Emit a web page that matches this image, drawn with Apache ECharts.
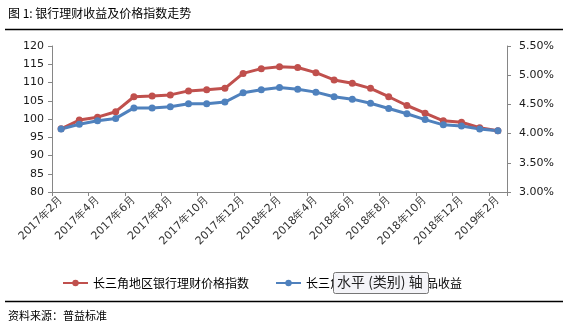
<!DOCTYPE html>
<html><head><meta charset="utf-8">
<script src="https://cdn.jsdelivr.net/npm/echarts@6/dist/echarts.min.js"></script>
<style>html,body{margin:0;padding:0;background:#fff}#c{width:572px;height:328px}</style>
</head><body><div id="c"></div>
<script>
const categories = ['2017年2月','2017年3月','2017年4月','2017年5月','2017年6月','2017年7月','2017年8月','2017年9月','2017年10月','2017年11月','2017年12月','2018年1月','2018年2月','2018年3月','2018年4月','2018年5月','2018年6月','2018年7月','2018年8月','2018年9月','2018年10月','2018年11月','2018年12月','2019年1月','2019年2月'];
const priceIndex = [97.3,99.7,100.5,102.0,106.1,106.3,106.6,107.7,108.0,108.4,112.5,113.8,114.3,114.1,112.7,110.7,109.8,108.4,106.1,103.7,101.6,99.5,99.1,97.6,96.8];
const yieldPct = [4.08,4.16,4.22,4.26,4.44,4.44,4.46,4.51,4.51,4.54,4.70,4.75,4.79,4.76,4.71,4.63,4.59,4.52,4.43,4.34,4.24,4.15,4.13,4.08,4.05];
const seriesNames = ['长三角地区银行理财价格指数','长三角地区银行理财产品收益'];
const titleText = '图 1: 银行理财收益及价格指数走势';
const sourceText = '资料来源：普益标准';

const chart = echarts.init(document.getElementById('c'), null, {renderer:'canvas'});
const axisFont = {fontFamily:'DejaVu Sans', fontSize:11, color:'#1a1a1a'};
chart.setOption({
  animation:false,
  backgroundColor:'#fff',
  grid:{left:52, right:65, top:46, bottom:136},
  legend:{
    left:57, top:272, itemWidth:25, itemHeight:8, itemGap:26,
    textStyle:{fontFamily:'Noto Sans CJK SC', fontSize:12, color:'#000'},
    data:seriesNames
  },
  xAxis:{
    type:'category', data:categories, boundaryGap:true,
    axisLine:{lineStyle:{color:'#868686', width:1}},
    axisTick:{show:true, interval:1, length:4, lineStyle:{color:'#868686'}},
    axisLabel:Object.assign({interval:1, rotate:45, margin:6}, axisFont, {color:'#333'}),
    splitLine:{show:false}
  },
  yAxis:[
    {type:'value', min:80, max:120, interval:5,
     axisLine:{show:true, lineStyle:{color:'#868686'}},
     axisTick:{show:true, length:4, lineStyle:{color:'#868686'}},
     axisLabel:Object.assign({margin:8}, axisFont),
     splitLine:{show:false}},
    {type:'value', min:3, max:5.5, interval:0.5, position:'right',
     axisLine:{show:true, lineStyle:{color:'#868686'}},
     axisTick:{show:true, length:4, lineStyle:{color:'#868686'}},
     axisLabel:Object.assign({margin:12, formatter:v=>v.toFixed(2)+'%'}, axisFont),
     splitLine:{show:false}}
  ],
  series:[
    {name:seriesNames[0], type:'line', yAxisIndex:0, data:priceIndex,
     symbol:'circle', symbolSize:7, color:'#C0504D',
     lineStyle:{width:3, color:'#C0504D'}, itemStyle:{color:'#C0504D'}},
    {name:seriesNames[1], type:'line', yAxisIndex:1, data:yieldPct,
     symbol:'circle', symbolSize:7, color:'#4F81BD',
     lineStyle:{width:3, color:'#4F81BD'}, itemStyle:{color:'#4F81BD'}}
  ],
  graphic:[
    {type:'text', left:8, top:7, style:{text:titleText, font:'12px "Noto Sans CJK SC"', fill:'#000'}},
    {type:'line', shape:{x1:5, y1:29.5, x2:563, y2:29.5}, style:{stroke:'#000', lineWidth:1.3}},
    {type:'line', shape:{x1:5, y1:301.5, x2:563, y2:301.5}, style:{stroke:'#000', lineWidth:1.3}},
    {type:'text', left:8, top:310, style:{text:sourceText, font:'11px "Noto Sans CJK SC"', fill:'#000'}},
    {type:'rect', shape:{x:333.5, y:272.5, width:95, height:21, r:2}, style:{fill:'#f4f4f8', stroke:'#767676', lineWidth:1}, z:100},
    {type:'text', x:337, y:275, z:101, style:{text:'水平 (类别) 轴', font:'14px "Noto Sans CJK SC"', fill:'#222'}}
  ]
});
</script></body></html>
